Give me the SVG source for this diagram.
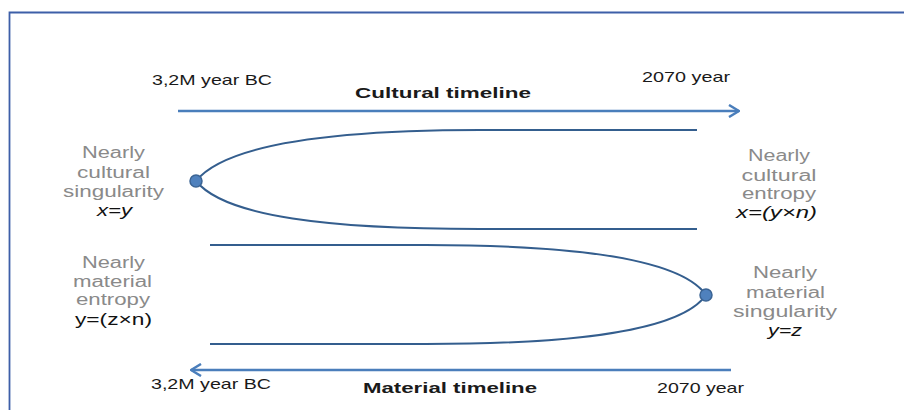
<svg xmlns="http://www.w3.org/2000/svg" width="904" height="410" viewBox="0 0 904 410">
<defs>
<style>
text{font-family:"Liberation Sans",Arial,sans-serif;font-size:15px;fill:#1a1a1a}
.g{fill:#8a8a8a;text-anchor:middle;font-size:16px}
.f{fill:#111;text-anchor:middle;font-size:16px}
.i{font-style:italic}
.b{font-weight:bold;font-size:15px}
.tl{stroke:#4a7ebb;stroke-width:2.5;fill:none}
.cv{stroke:#345e8e;stroke-width:2;fill:none}
.dot{fill:#4f81bd;stroke:#3b6494;stroke-width:1.5}
</style>
<marker id="ah" viewBox="0 0 12 14" refX="11" refY="7" markerWidth="12" markerHeight="14" markerUnits="userSpaceOnUse" orient="auto">
<path d="M1,1 L11,7 L1,13" fill="none" stroke="#4a7ebb" stroke-width="2.5"/>
</marker>
</defs>
<rect width="904" height="410" fill="#fff"/>
<path d="M9.5,410 V12.5 H904" fill="none" stroke="#3d5fa8" stroke-width="1.8"/>
<g id="connectors">
<line class="tl" x1="178" y1="111" x2="739" y2="111" marker-end="url(#ah)"/>
<line class="tl" x1="731" y1="370" x2="191" y2="370" marker-end="url(#ah)"/>
<path class="cv" d="M697,130 L480,130 C330,130 225,145 196,181 C225,217 330,229 480,229 L697,229"/>
<path class="cv" d="M210,245 L426,245 C576,245 681,259 706,295 C681,331 576,344 426,344 L210,344"/>
</g>
<g id="cultural-timeline">
<text x="152" y="85" textLength="120" lengthAdjust="spacingAndGlyphs">3,2M year BC</text>
<text x="642" y="82" textLength="88" lengthAdjust="spacingAndGlyphs">2070 year</text>
<text class="b" x="355" y="98" textLength="176" lengthAdjust="spacingAndGlyphs">Cultural timeline</text>
</g>
<g id="material-timeline">
<text x="151" y="389" textLength="120" lengthAdjust="spacingAndGlyphs">3,2M year BC</text>
<text x="657" y="393" textLength="87" lengthAdjust="spacingAndGlyphs">2070 year</text>
<text class="b" x="363" y="393" textLength="174" lengthAdjust="spacingAndGlyphs">Material timeline</text>
</g>
<g id="cultural-singularity">
<circle class="dot" cx="196" cy="181" r="6"/>
<text class="g" x="113.5" y="158" textLength="63" lengthAdjust="spacingAndGlyphs">Nearly</text>
<text class="g" x="113.5" y="178" textLength="73" lengthAdjust="spacingAndGlyphs">cultural</text>
<text class="g" x="113.5" y="197" textLength="101" lengthAdjust="spacingAndGlyphs">singularity</text>
<text class="f i" x="114.5" y="216" textLength="35" lengthAdjust="spacingAndGlyphs">x=y</text>
</g>
<g id="cultural-entropy">
<text class="g" x="779" y="161" textLength="62" lengthAdjust="spacingAndGlyphs">Nearly</text>
<text class="g" x="779" y="181" textLength="75" lengthAdjust="spacingAndGlyphs">cultural</text>
<text class="g" x="779" y="199" textLength="74" lengthAdjust="spacingAndGlyphs">entropy</text>
<text class="f i" x="776.5" y="218" textLength="81" lengthAdjust="spacingAndGlyphs">x=(y×n)</text>
</g>
<g id="material-entropy">
<text class="g" x="113.5" y="268" textLength="63" lengthAdjust="spacingAndGlyphs">Nearly</text>
<text class="g" x="112.5" y="287" textLength="79" lengthAdjust="spacingAndGlyphs">material</text>
<text class="g" x="113" y="305" textLength="74" lengthAdjust="spacingAndGlyphs">entropy</text>
<text class="f" x="113.5" y="325" textLength="77" lengthAdjust="spacingAndGlyphs">y=(z×n)</text>
</g>
<g id="material-singularity">
<circle class="dot" cx="706" cy="295" r="6"/>
<text class="g" x="785" y="278" textLength="64" lengthAdjust="spacingAndGlyphs">Nearly</text>
<text class="g" x="785.5" y="298" textLength="79" lengthAdjust="spacingAndGlyphs">material</text>
<text class="g" x="785" y="317" textLength="104" lengthAdjust="spacingAndGlyphs">singularity</text>
<text class="f i" x="785" y="336" textLength="34" lengthAdjust="spacingAndGlyphs">y=z</text>
</g>
</svg>
